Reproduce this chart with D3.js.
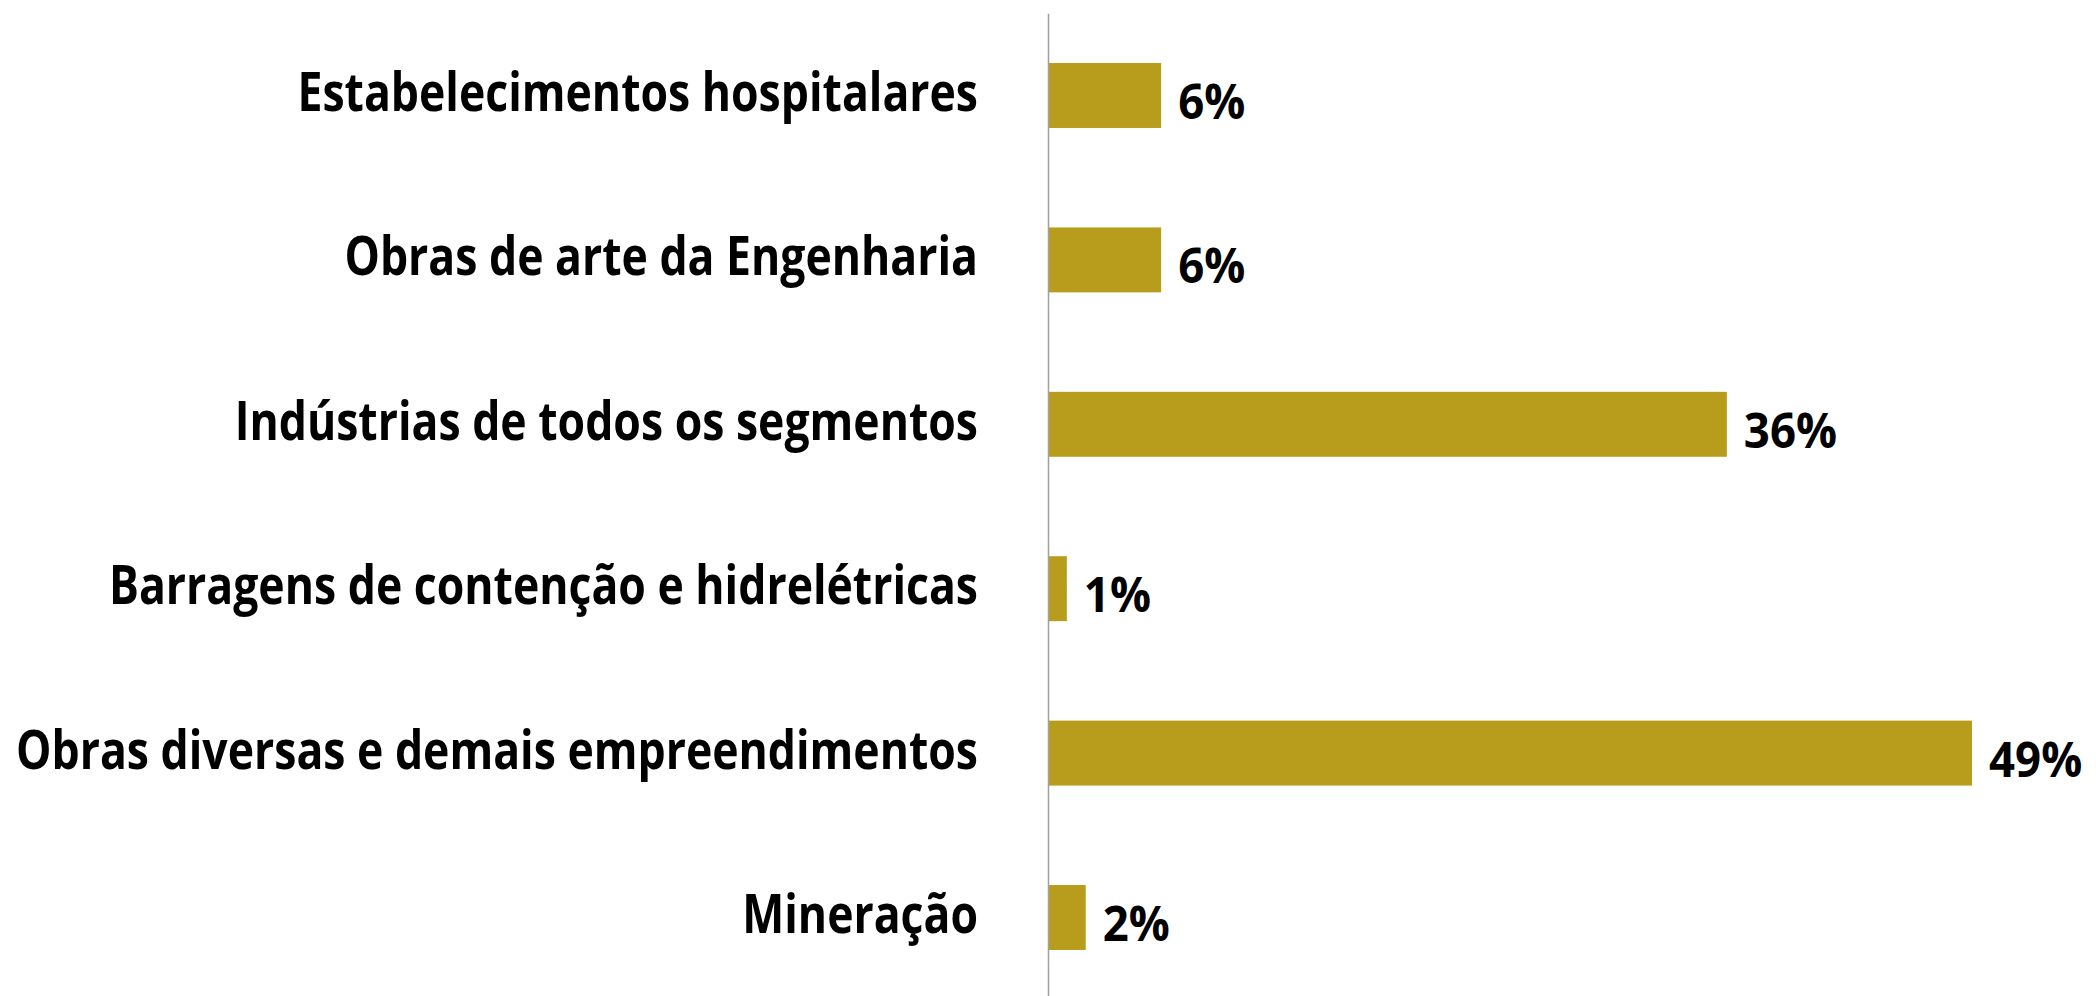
<!DOCTYPE html>
<html>
<head>
<meta charset="utf-8">
<script src="https://cdn.jsdelivr.net/npm/d3@7"></script>
<style>
  html, body { margin: 0; padding: 0; background: #ffffff; }
  svg { display: block; }
</style>
</head>
<body>
<script>
const categories = [
  "Estabelecimentos hospitalares",
  "Obras de arte da Engenharia",
  "Indústrias de todos os segmentos",
  "Barragens de contenção e hidrelétricas",
  "Obras diversas e demais empreendimentos",
  "Mineração"
];
const values = [6, 6, 36, 1, 49, 2];
const valueLabels = ["6%", "6%", "36%", "1%", "49%", "2%"];

const W = 2096, H = 996;
const axisX = 1048;
const svg = d3.select("body").append("svg").attr("width", W).attr("height", H);

const y = d3.scaleBand().domain(categories).range([13.3, 999.7])
  .paddingInner(0.605).paddingOuter(0.3025);
const x = d3.scaleLinear().domain([0, 49]).range([axisX, 1972]);

// bars
svg.append("g").selectAll("rect").data(values).join("rect")
  .attr("x", x(0))
  .attr("y", (d, i) => y(categories[i]))
  .attr("width", d => x(d) - x(0))
  .attr("height", y.bandwidth())
  .attr("fill", "#b89c1b");

// axis line
const axis = svg.append("g").attr("transform", `translate(${axisX},0)`)
  .call(d3.axisLeft(y).tickSize(0).tickSizeOuter(0).tickFormat(""));
axis.select(".domain").attr("stroke", "#a0a0a0").attr("stroke-width", 1.5);
axis.selectAll(".tick").remove();

const fontFam = "'Open Sans', 'DejaVu Sans', sans-serif";
const catK = 0.825;
// category labels
svg.append("g").selectAll("text").data(categories).join("text")
  .attr("transform", d => `translate(${axisX - 70},${y(d) + y.bandwidth() / 2 + 15.5}) scale(${catK},1)`)
  .attr("text-anchor", "end")
  .attr("font-family", fontFam)
  .attr("font-weight", 700)
  .attr("font-size", 54)
  .attr("fill", "#000")
  .text(d => d);

// value labels
svg.append("g").selectAll("text").data(values).join("text")
  .attr("transform", (d, i) => `translate(${x(d) + 17},${y(categories[i]) + y.bandwidth() / 2 + 23.5}) scale(0.95,1)`)
  .attr("text-anchor", "start")
  .attr("font-family", fontFam)
  .attr("font-weight", 700)
  .attr("font-size", 48)
  .attr("fill", "#000")
  .text((d, i) => valueLabels[i]);
</script>
</body>
</html>
